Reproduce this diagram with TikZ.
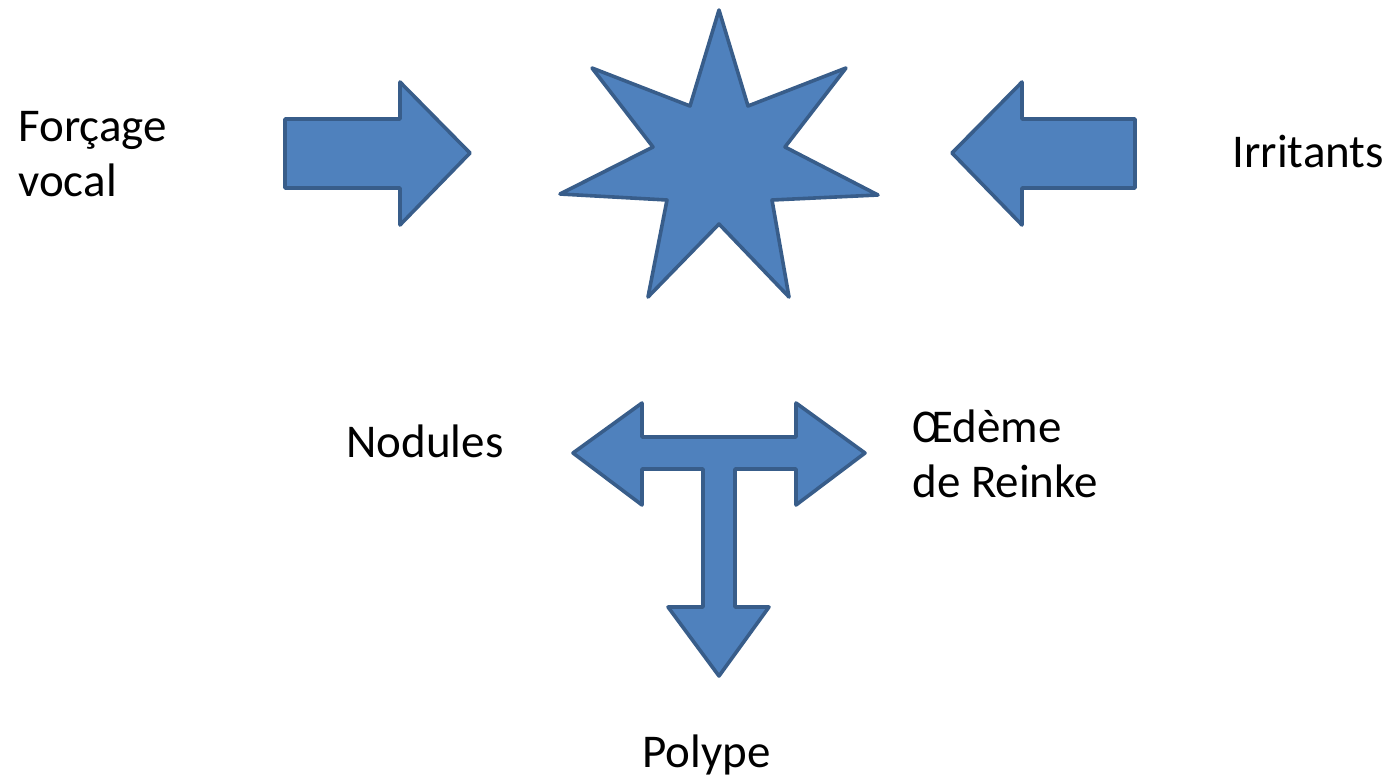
\documentclass[tikz,border=0pt]{standalone}
\usepackage{fontspec}
\setmainfont{Carlito}
\definecolor{formfill}{HTML}{4F81BD}
\definecolor{formline}{HTML}{385D8A}
\begin{document}
\begin{tikzpicture}[x=0.5pt,y=-0.5pt,
   forme/.style={draw=formline,fill=formfill,line width=1.8pt,line join=round},
   etiq/.style={inner sep=0pt,anchor=base west,align=left,font=\fontsize{23.5}{27.5}\selectfont}]
   \useasboundingbox (0,0) rectangle (1389,778);

   % etoile
   \draw[forme] (719,10) -- (748,106) -- (846,68) -- (785,147) -- (878,195) --
      (772,200) -- (789,297) -- (719,224) -- (648,297) -- (667,200) --
      (560,194) -- (653,147) -- (592,68) -- (690,106) -- cycle;

   % fleches
   \draw[forme] (285,119) -- (400,119) -- (400,82) -- (470,153) --
      (400,225) -- (400,188) -- (285,188) -- cycle;
   \draw[forme] (1135,119) -- (1022,119) -- (1022,82) -- (952,153) --
      (1022,225) -- (1022,188) -- (1135,188) -- cycle;

   \draw[forme] (573,453) -- (642,403) -- (642,437) -- (796,437) -- (796,403) --
      (865,453) -- (796,505) -- (796,469) -- (735,469) -- (735,607) --
      (769,607) -- (719,676) -- (668,607) -- (703,607) -- (703,469) --
      (642,469) -- (642,505) -- cycle;

   \node[etiq] (forcage) at (18,196) {Forçage\\vocal};
   \node[etiq] (irritants) at (1232,167) {Irritants};
   \node[etiq] (nodules) at (346,457) {Nodules};
   \node[etiq] (oedeme) at (912,497) {Œdème\\de Reinke};
   \node[etiq] (polype) at (642,767) {Polype};
\end{tikzpicture}
\end{document}
